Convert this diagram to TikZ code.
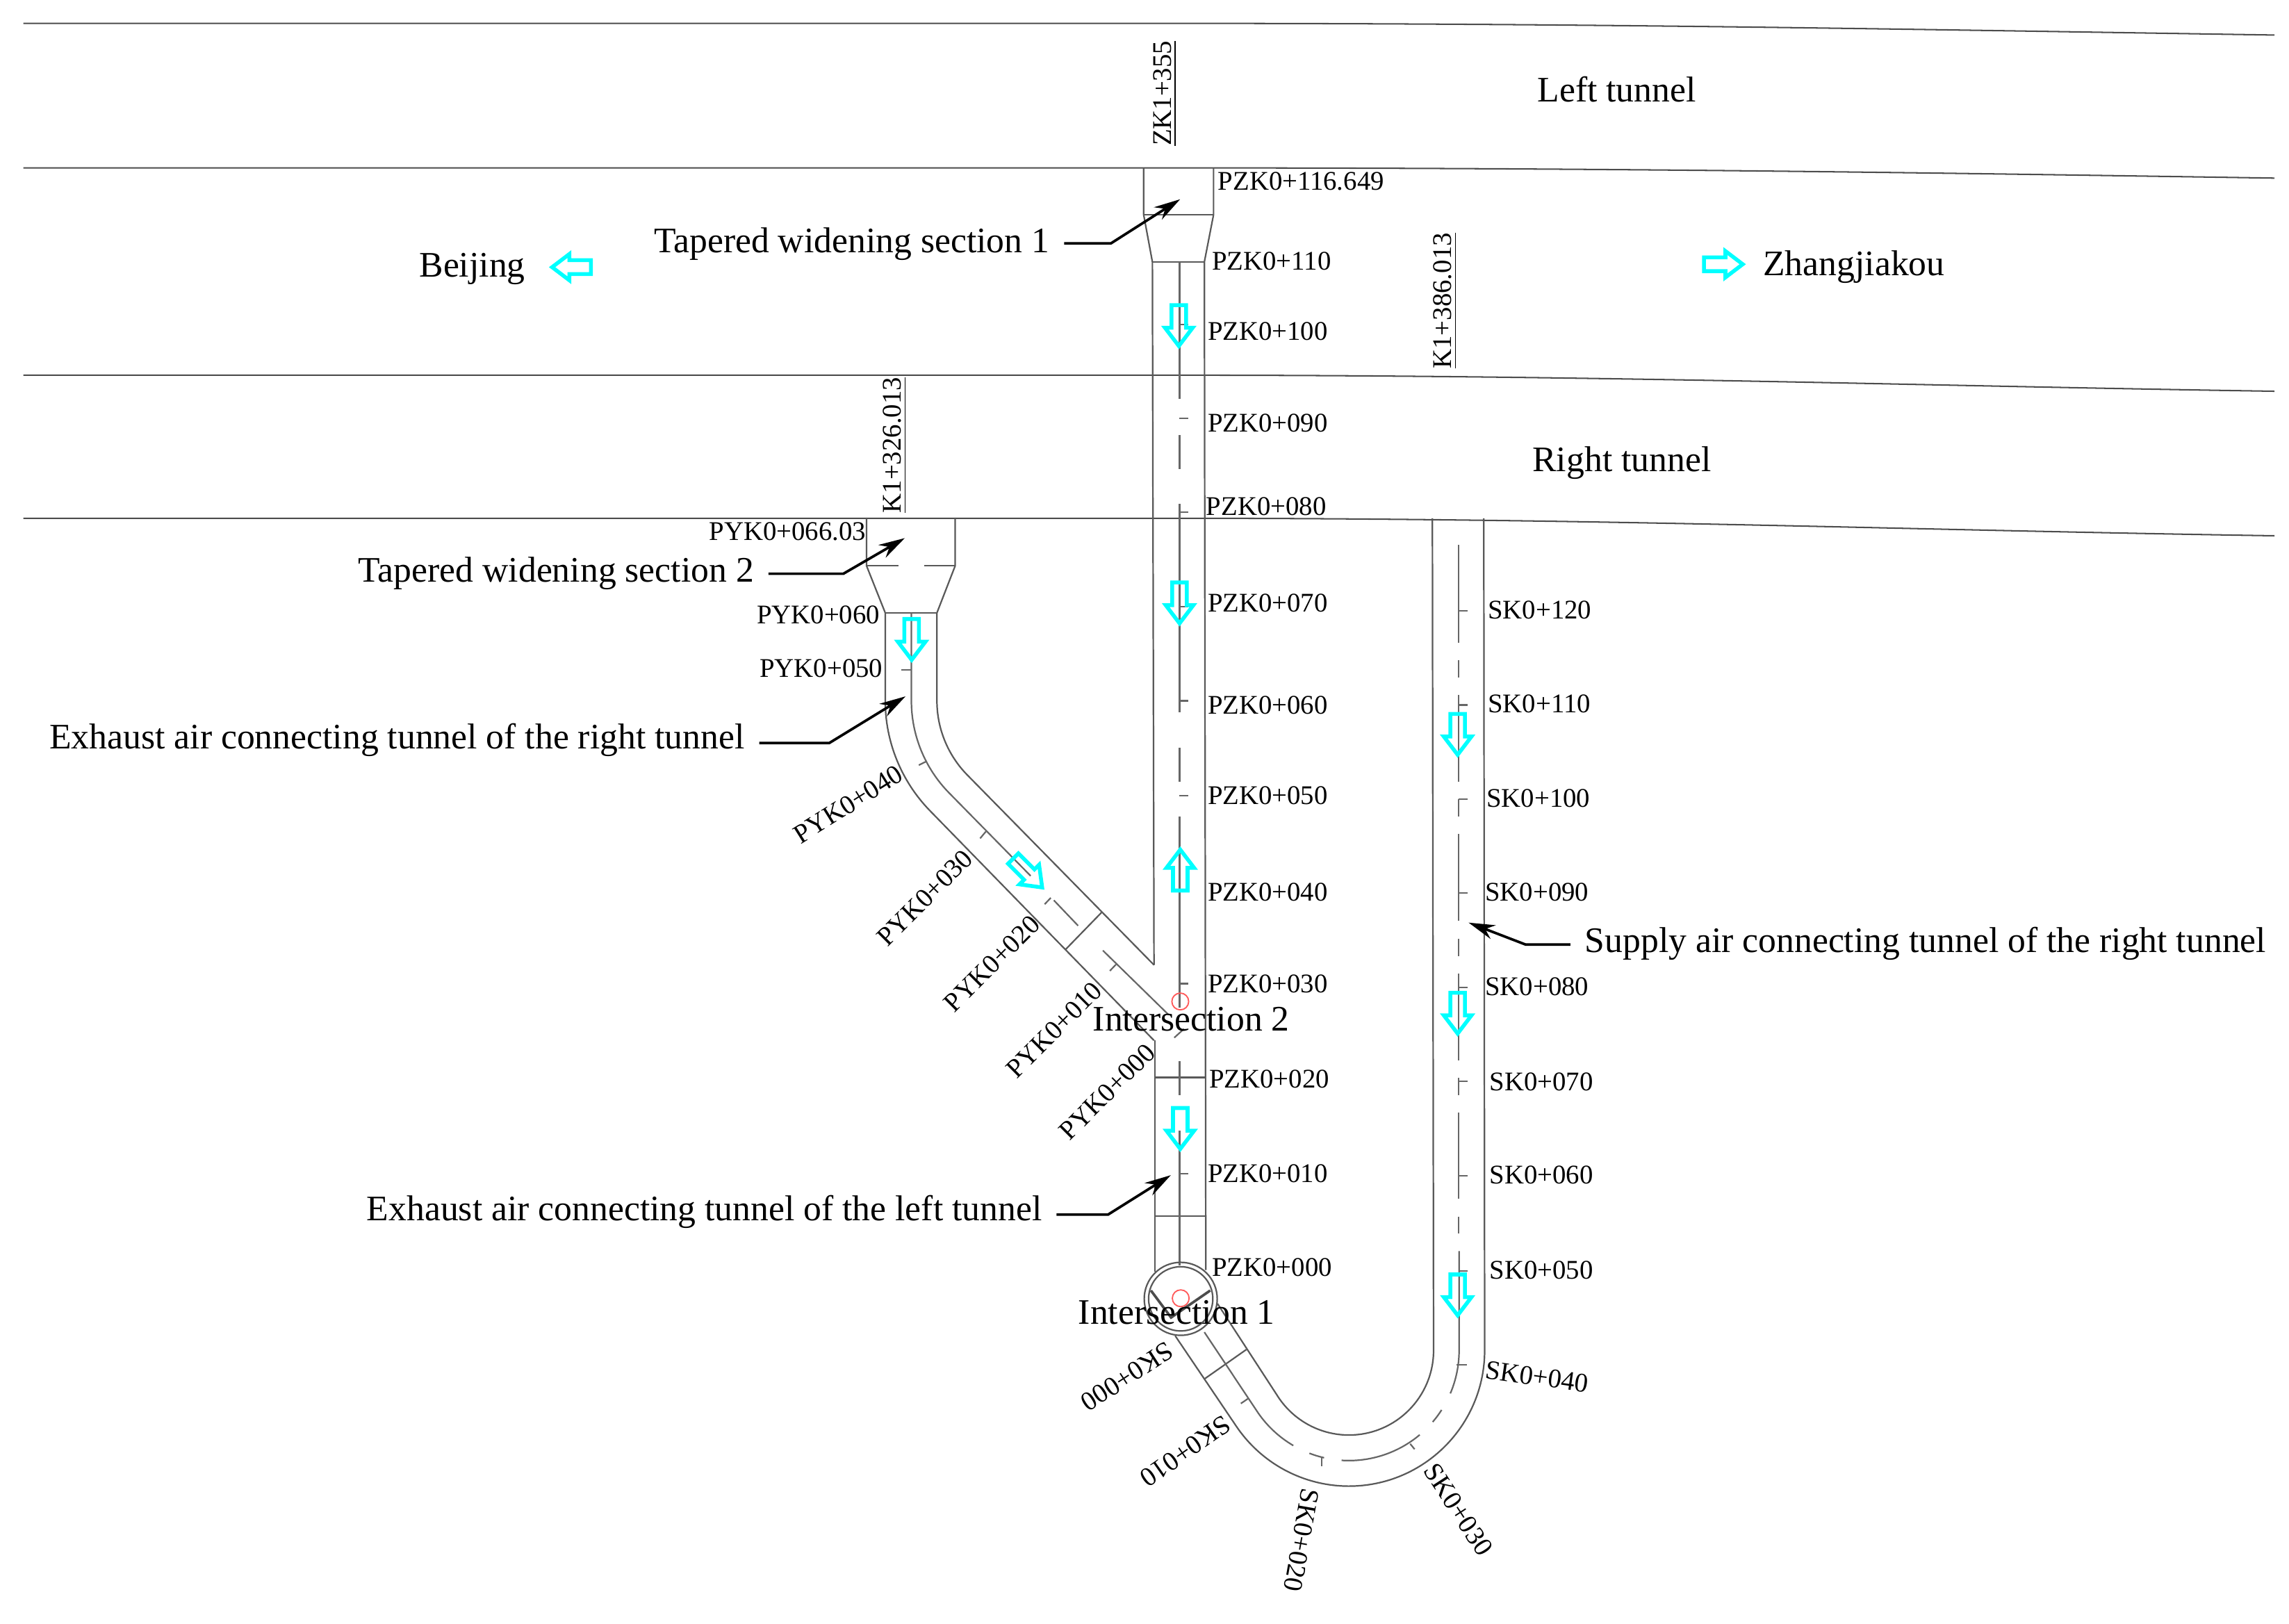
\documentclass[tikz,border=0pt]{standalone}
\usepackage{fontspec}
\setmainfont{Liberation Serif}
\usetikzlibrary{calc,arrows.meta}
\definecolor{flowcyan}{RGB}{0,255,255}

\tikzset{
    tunnelwall/.style={line width=0.6pt, black!65},
    centreline/.style={line width=0.6pt, black!60},
    roadline/.style={line width=0.55pt, black!70},
    leader/.style={line width=1pt, -{Stealth[length=0.36cm,width=0.2cm]}},
    bigtext/.style={font=\fontsize{14}{16}\selectfont, inner sep=5.5pt},
    station/.style={font=\fontsize{10.5}{12}\selectfont, inner sep=0pt},
    mileage/.style={font=\fontsize{10.5}{12}\selectfont, inner sep=0pt, rotate=90},
    marker/.style={line width=0.5pt, draw=red!65, circle, inner sep=0pt, minimum size=0.23cm},
    airflow/.pic={
        \draw[flowcyan, line width=1.5pt, line join=miter]
            (-5,-14) -- (5,-14) -- (5,1.5) -- (9.5,1.5) -- (0,14) -- (-9.5,1.5) -- (-5,1.5) -- cycle;
    },
}

\begin{document}
\begin{tikzpicture}[x=0.02cm, y=-0.02cm]
    \useasboundingbox (0,0) rectangle (1568,1112.4);

    % Main line tunnels
    \foreach \ystart/\yend in {16/24, 115/122, 257/268, 355/367}
        \draw[roadline] (16,\ystart) -- (800,\ystart) .. controls (1100,\ystart) and (1300,\yend-4) .. (1558,\yend);

    % Left connecting tunnel
    \draw[tunnelwall] (783.4,115) -- (783.4,147) -- (789.4,179.4) -- (790.5,661);
    \draw[tunnelwall] (831.3,115) -- (831.3,147) -- (825,179.4) -- (826,870);
    \draw[tunnelwall] (791,712.7) -- (791,871);
    \draw[tunnelwall] (783.4,147) -- (831.3,147);
    \draw[tunnelwall] (789.4,179.4) -- (825,179.4);
    \draw[tunnelwall] (791,738) -- (826,738);
    \draw[tunnelwall] (791,833) -- (826,833);
    \foreach \ytop/\ybot in {179.4/273.3, 298.1/321.4, 345.2/488, 512.2/535.7, 559.5/690, 727/750, 774.6/867}
        \draw[centreline] (808,\ytop) -- (808,\ybot);
    \foreach \ytick in {222.2, 286.5, 351, 415.6, 480, 545.2, 610, 673.8, 804}
        \draw[centreline] (808,\ytick) -- (814,\ytick);

    % Right exhaust connecting tunnel
    \draw[tunnelwall] (593.6,355) -- (593.6,387.6) -- (606.4,419.8) -- (606.4,480) arc[start angle=180, end angle=135.7, radius=108] -- (790.5,712.7);
    \draw[tunnelwall] (654.3,355) -- (654.3,387.6) -- (641.8,419.8) -- (641.8,480) arc[start angle=180, end angle=135.7, radius=72.6] -- (790.5,661);
    \draw[tunnelwall] (593.6,387.6) -- (615.6,387.6);
    \draw[tunnelwall] (633.3,387.6) -- (654.3,387.6);
    \draw[tunnelwall] (606.4,419.8) -- (641.8,419.8);
    \draw[tunnelwall] (729.8,650.5) -- (754.6,625);
    \draw[centreline] (624.3,419.8) -- (624.3,480) arc[start angle=180, end angle=135.7, radius=90.1] -- (706,600);
    \draw[centreline] (721.9,616.7) -- (738.5,634.1);
    \draw[centreline] (755.5,651.1) -- (800.6,695.2);
    \draw[centreline] (624.3,458.7) -- (617.5,458.7);
    \draw[centreline] (634.9,521.4) -- (629.4,524.1);
    \draw[centreline] (675.4,569.5) -- (671.4,574.3);
    \draw[centreline] (719.8,615) -- (715.6,619.4);
    \draw[centreline] (764.5,660.6) -- (760.3,665);
    \draw[centreline] (811,704.8) -- (804.4,710.8);

    % Supply connecting tunnel
    \draw[tunnelwall] (1016.4,355) -- (1017,925) arc[start angle=0, end angle=146, radius=93] -- (805,915);
    \draw[tunnelwall] (981.2,355) -- (982,925) arc[start angle=0, end angle=146, radius=58] -- (834,893);
    \draw[tunnelwall] (825.3,944.4) -- (853.8,924.4);
    \foreach \ytop/\ybot in {373.3/440.2, 452/464, 476/535.7, 547.3/559.5, 571.4/630.6, 642.9/654.8, 667/726.2, 738.1/750, 762.2/821.3, 833.3/845}
        \draw[centreline] (999.2,\ytop) -- (999.2,\ybot);
    \foreach \ytick in {418.3, 482.9, 547.3, 611.6, 676.5, 740.5, 805.5, 870.5}
        \draw[centreline] (999.2,\ytick) -- (1005.2,\ytick);
    \draw[centreline] (999.5,857) -- (999.5,925) arc[start angle=0, end angle=23, radius=75.5];
    \foreach \afrom/\ato in {32.7/40.5, 50/93.8, 103/111}
        \draw[centreline] (924,925) ++(\afrom:75.5) arc[start angle=\afrom, end angle=\ato, radius=75.5];
    \draw[centreline] (924,925) ++(120.3:75.5) arc[start angle=120.3, end angle=146, radius=75.5] -- (825,912.5);
    \draw[centreline] (997.8,934.9) -- (1004.9,934.9);
    \draw[centreline] (966,989) -- (969,992.7);
    \draw[centreline] (905.5,998.8) -- (905.5,1004.5);
    \draw[centreline] (855,958) -- (850,961.4);

    % Intersections
    \draw[tunnelwall] (808.8,889.7) circle[radius=25];
    \draw[tunnelwall] (808.8,889.7) circle[radius=22];
    \draw[line width=1pt, black!70] (788.4,884) -- (802.2,902.5) -- (829,884);
    \node[marker] (markertwo) at (808.5,686) {};
    \node[marker] (markerone) at (808.8,889.3) {};
    \node[bigtext] (intersectiontwo) at (816,698) {Intersection 2};
    \node[bigtext] (intersectionone) at (806,899) {Intersection 1};

    % Air flow
    \pic at (807.5,223) {airflow};
    \pic at (808,413) {airflow};
    \pic[rotate=180] at (808.5,596) {airflow};
    \pic at (808.5,773) {airflow};
    \pic at (624.5,438) {airflow};
    \pic[rotate=45] at (704,598) {airflow};
    \pic at (998.5,503) {airflow};
    \pic at (998.5,694) {airflow};
    \pic at (998.5,887) {airflow};
    \pic[rotate=-90, scale=0.95] at (391.5,183) {airflow};
    \pic[rotate=90, scale=0.95] at (1180.5,181) {airflow};

    % Names
    \node[bigtext] (lefttunnel) at (1107.5,61) {Left tunnel};
    \node[bigtext] (righttunnel) at (1111,317) {Right tunnel};
    \node[bigtext] (beijing) at (323.5,184) {Beijing};
    \node[bigtext] (zhangjiakou) at (1270,183) {Zhangjiakou};
    \node[bigtext] (taperone) at (583.5,167) {Tapered widening section 1};
    \node[bigtext] (tapertwo) at (381,393) {Tapered widening section 2};
    \node[bigtext] (exhaustright) at (272,507) {Exhaust air connecting tunnel of the right tunnel};
    \node[bigtext] (exhaustleft) at (482.5,830) {Exhaust air connecting tunnel of the left tunnel};
    \node[bigtext] (supplyright) at (1319,646.5) {Supply air connecting tunnel of the right tunnel};

    % Leaders
    \coordinate (taperoneknee) at (761,166.7);
    \coordinate (taperonetip) at (808.4,136.5);
    \coordinate (tapertwoknee) at (577.7,393);
    \coordinate (tapertwotip) at (619.8,368.6);
    \coordinate (exhaustrightknee) at (568,509);
    \coordinate (exhaustrighttip) at (620.3,477);
    \coordinate (exhaustleftknee) at (759,832);
    \coordinate (exhaustlefttip) at (802,805);
    \coordinate (supplyrightknee) at (1045,647);
    \coordinate (supplyrighttip) at (1006,632);
    \draw[leader] (taperoneknee -| taperone.east) -- (taperoneknee) -- (taperonetip);
    \draw[leader] (tapertwoknee -| tapertwo.east) -- (tapertwoknee) -- (tapertwotip);
    \draw[leader] (exhaustrightknee -| exhaustright.east) -- (exhaustrightknee) -- (exhaustrighttip);
    \draw[leader] (exhaustleftknee -| exhaustleft.east) -- (exhaustleftknee) -- (exhaustlefttip);
    \draw[leader] (supplyrightknee -| supplyright.west) -- (supplyrightknee) -- (supplyrighttip);

    % Stations
    \node[station, anchor=west] (pzktop) at (834,124) {PZK0+116.649};
    \foreach \stname/\xpos/\ypos in {110/830/179, 100/827/227, 090/827/290, 080/826/347, 070/827/413, 060/827/483, 050/827/545, 040/827/611, 030/827/674, 020/828/739, 010/827/804, 000/830/868}
        \node[station, anchor=west] (pzk\stname) at (\xpos,\ypos) {PZK0+\stname};
    \foreach \stname/\xpos/\ypos in {120/1019/418, 110/1019/482, 100/1018/547, 090/1017/611, 080/1017/676, 070/1020/741, 060/1020/805, 050/1020/870}
        \node[station, anchor=west] (sk\stname) at (\xpos,\ypos) {SK0+\stname};
    \node[station, rotate=-8] (sk040) at (1053,943) {SK0+040};
    \node[station, rotate=-57] (sk030) at (999,1034) {SK0+030};
    \node[station, rotate=-100] (sk020) at (891.5,1055) {SK0+020};
    \node[station, rotate=215] (sk010) at (812,994) {SK0+010};
    \node[station, rotate=213] (sk000) at (772,943) {SK0+000};
    \node[station, anchor=east] (pyktop) at (593.5,364) {PYK0+066.03};
    \node[station, anchor=east] (pyk060) at (603,421) {PYK0+060};
    \node[station, anchor=east] (pyk050) at (605,458) {PYK0+050};
    \node[station, rotate=32] (pyk040) at (581,551) {PYK0+040};
    \foreach \stname/\xpos/\ypos in {030/633.5/615, 020/679.5/660, 010/722/705.5, 000/758.5/748}
        \node[station, rotate=45] (pyk\stname) at (\xpos,\ypos) {PYK0+\stname};

    % Mileage
    \node[mileage] (zkmark) at (798,64) {\underline{ZK1+355}};
    \node[mileage] (kmarkright) at (990,206) {\underline{K1+386.013}};
    \node[mileage] (kmarkleft) at (613,305) {\underline{K1+326.013}};

\end{tikzpicture}
\end{document}
